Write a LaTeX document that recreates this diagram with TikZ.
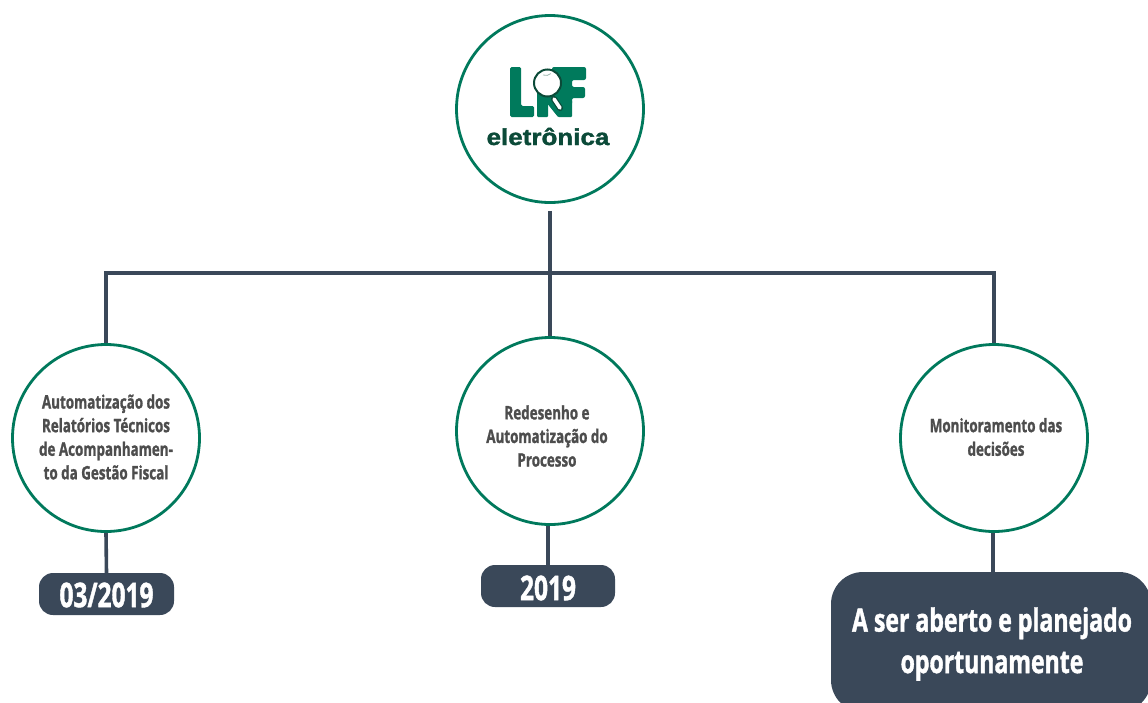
\documentclass[tikz,border=0pt]{standalone}
\usepackage{fontspec}
\setmainfont[FakeStretch=0.72,BoldFeatures={FakeBold=1.2}]{Open Sans}
\newfontfamily\logofont[FakeStretch=1.13,FakeBold=1.5]{Liberation Sans Bold}
\definecolor{ringgreen}{HTML}{00795C}
\definecolor{logogreen}{HTML}{007A5C}
\definecolor{logodark}{HTML}{0B4A38}
\definecolor{slate}{HTML}{3A4859}
\definecolor{bodytext}{HTML}{4D4D4D}
\tikzset{
  ring/.style={circle,draw=ringgreen,line width=2.8pt,minimum size=187pt,inner sep=0pt,fill=white},
  link/.style={draw=slate,line width=3.6pt},
  caption/.style={align=center,font=\bfseries\fontsize{18.6}{23.6}\selectfont,text=bodytext},
  pill/.style={fill=slate,text=white,align=center,inner sep=0pt,rounded corners=14pt},
  pilltext/.style={text=white,align=center,inner sep=0pt,font=\bfseries\fontsize{34}{34}\selectfont},
  bigpill/.style={fill=slate,inner sep=0pt,rounded corners=32pt},
  bigtext/.style={font=\bfseries\fontsize{32}{41.5}\selectfont,text=white,align=center}
}
\begin{document}
\begin{tikzpicture}[x=1pt,y=-1pt]
\useasboundingbox (0,0) rectangle (1148,702);
\clip (0,0) rectangle (1148,702);
\node[pill,minimum width=135pt,minimum height=42pt] (d1) at (106.5,594) {};
\node[pilltext] (d1t) at (106.5,595) {03/2019};
\node[pill,minimum width=134pt,minimum height=42pt] (d2) at (548,586) {};
\node[pilltext] (d2t) at (548,588) {2019};
\node[bigpill,minimum width=320pt,minimum height=140pt] (d3) at (991,642) {};
\node[bigtext] (d3t) at (992,644) {A ser aberto e planejado\\oportunamente};
\node[ring] (top) at (550,109) {};
\node[ring] (c1) at (106,438) {};
\node[ring] (c2) at (550,431) {};
\node[ring] (c3) at (994,438) {};
\coordinate (hl) at (106,273);
\coordinate (hr) at (994,273);
\draw[link,shorten <=7pt] (top.south) -- (c2.north);
\draw[link] (c1.north) -- (hl) -- (hr) -- (c3.north);
\draw[link] (c1.south) -- (d1.north);
\draw[link] (c2.south -| d2.north) -- (d2.north);
\draw[link] (c3.south -| 993,0) -- (d3.north -| 993,0);
\node[caption] (t1) at (106,437) {Automatização dos\\Relatórios Técnicos\\de Acompanhamen-\\to da Gestão Fiscal};
\node[caption] (t2) at (547,436) {Redesenho e\\Automatização do\\Processo};
\node[caption] (t3) at (996,437) {Monitoramento das\\decisões};
% logo
\fill[logogreen,rounded corners=1.5pt] (510,67) -- (521,67) -- (521,106) -- (534,106) -- (534,117) -- (510,117) -- cycle;
\fill[logogreen,rounded corners=1pt] (537,80) -- (548,80) -- (548,117) -- (537,117) -- cycle;
\fill[logogreen,rounded corners=1pt] (546,92) -- (562,92) -- (572,100) -- (572,117) -- (558,117) -- (546,102) -- cycle;
\fill[logogreen,rounded corners=2pt] (552,67) -- (586,67) -- (586,80) -- (572,80) -- (572,87) -- (585,87) -- (585,98) -- (572,98) -- (572,105) -- (560,105) -- (552,85) -- cycle;
\filldraw[fill=white,draw=logodark,line width=2pt] (547.5,83) circle (13.5pt);
\draw[logodark!40,line width=0.8pt] (543,75) arc[start angle=250,end angle=310,radius=8pt];
\draw[line width=6pt,logodark,line cap=round] (554,99) -- (560,108);
\draw[line width=3.6pt,white,line cap=round] (554,99) -- (560,108);
\node[font=\logofont\fontsize{23}{23}\selectfont,text=logodark,inner sep=0pt,anchor=base] (logo) at (548,145) {eletrônica};
\end{tikzpicture}
\end{document}
